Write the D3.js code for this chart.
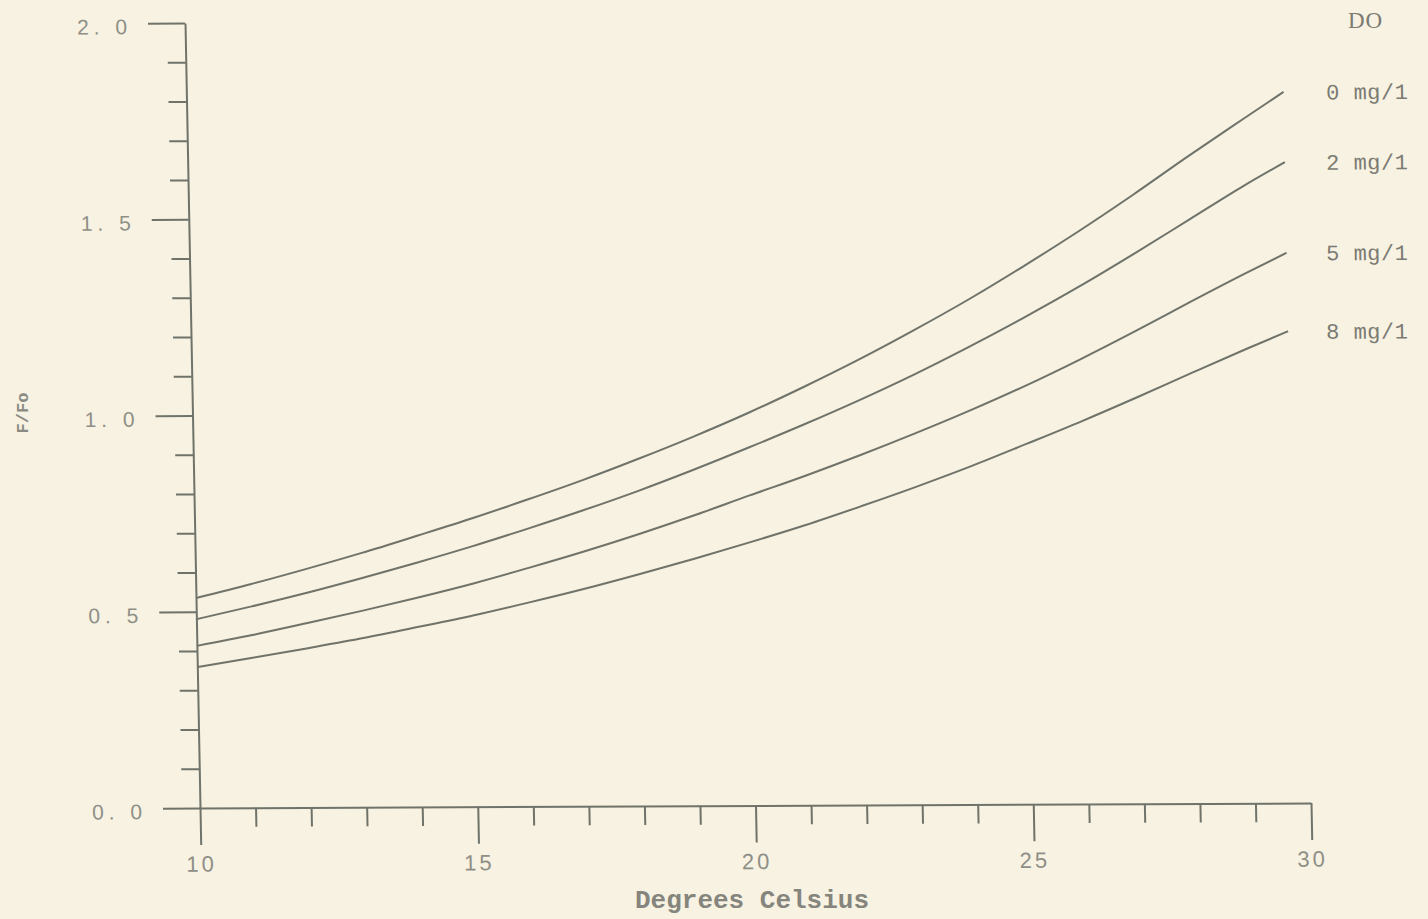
<!DOCTYPE html>
<html>
<head>
<meta charset="utf-8">
<script src="https://cdn.jsdelivr.net/npm/d3@7"></script>
<style>
  html, body { margin: 0; padding: 0; background: #f7f2e2; }
  svg { display: block; }
</style>
</head>
<body>
<svg id="chart"></svg>
<script>
// Temperatures (degrees C) at which the curves were read
const temperatures = [10, 11, 12, 13, 14, 15, 16, 17, 18, 19, 20, 21, 22, 23, 24, 25, 26, 27, 28, 29, 29.75];

// F/Fo, one array per dissolved oxygen level
const ratioDO0 = [0.535, 0.570, 0.608, 0.648, 0.691, 0.735, 0.782, 0.831, 0.884, 0.940, 1.000, 1.065, 1.134, 1.208, 1.286, 1.370, 1.458, 1.551, 1.648, 1.742, 1.812];
const ratioDO2 = [0.481, 0.513, 0.547, 0.584, 0.623, 0.664, 0.708, 0.754, 0.803, 0.856, 0.912, 0.970, 1.031, 1.096, 1.166, 1.240, 1.318, 1.401, 1.487, 1.573, 1.633];
const ratioDO5 = [0.413, 0.440, 0.470, 0.501, 0.534, 0.569, 0.608, 0.649, 0.693, 0.740, 0.790, 0.839, 0.891, 0.946, 1.004, 1.066, 1.133, 1.204, 1.278, 1.350, 1.402];
const ratioDO8 = [0.359, 0.382, 0.406, 0.431, 0.459, 0.488, 0.520, 0.554, 0.591, 0.630, 0.671, 0.714, 0.761, 0.810, 0.862, 0.918, 0.975, 1.035, 1.097, 1.158, 1.202];

const seriesLabels = ["0 mg/1", "2 mg/1", "5 mg/1", "8 mg/1"];

// Axis ticks
const xTicks = [10, 15, 20, 25, 30];
const xMinorTicks = [11, 12, 13, 14, 16, 17, 18, 19, 21, 22, 23, 24, 26, 27, 28, 29];
const yTicks = [0.0, 0.5, 1.0, 1.5, 2.0];
const yMinorTicks = [0.1, 0.2, 0.3, 0.4, 0.6, 0.7, 0.8, 0.9, 1.1, 1.2, 1.3, 1.4, 1.6, 1.7, 1.8, 1.9];

function CreateRatioChart(selector) {

    d3.select(selector).selectAll("*").remove();

    const width = 1428;
    const height = 919;
    const plotWidth = 1111;
    const plotHeight = 785;
    const lean = 0.0191;   // y axis leans left toward the top
    const climb = -0.0045; // x axis climbs toward the right

    const inkColor = "#6f736a";
    const labelColor = "#8f8f87";

    const svg = d3.select(selector)
        .attr("width", width)
        .attr("height", height)
        .attr("viewBox", [0, 0, width, height]);

    svg.append("rect")
        .attr("width", width)
        .attr("height", height)
        .attr("fill", "#f7f2e2");

    // The original plot is a bit skewed, so the drawing group is too
    const g = svg.append("g")
        .attr("transform", `matrix(1,${climb},${lean},1,200,808)`);

    const x = d3.scaleLinear()
        .domain([10, 30])
        .range([0, plotWidth]);

    const y = d3.scaleLinear()
        .domain([0, 2])
        .range([0, -plotHeight]);

    // minor ticks first
    g.append("g")
        .attr("class", "x-minor")
        .call(d3.axisBottom(x).tickValues(xMinorTicks).tickSize(19).tickFormat(""))
        .call(a => a.select(".domain").remove());

    g.append("g")
        .attr("class", "y-minor")
        .call(d3.axisLeft(y).tickValues(yMinorTicks).tickSize(18).tickFormat(""))
        .call(a => a.select(".domain").remove());

    // major ticks + axis lines (the 0.0 and 10 ticks make the axis overhangs)
    const xAxis = g.append("g")
        .attr("class", "x-axis")
        .call(d3.axisBottom(x).tickValues(xTicks).tickSize(37).tickSizeOuter(0).tickPadding(11).tickFormat(d3.format("d")));

    const yAxis = g.append("g")
        .attr("class", "y-axis")
        .call(d3.axisLeft(y).tickValues(yTicks).tickSize(37).tickSizeOuter(0).tickPadding(16)
            .tickFormat(d => d.toFixed(1).replace(".", ". ")));

    g.selectAll(".domain, .tick line")
        .attr("stroke", inkColor)
        .attr("stroke-width", 2);

    xAxis.selectAll("text")
        .attr("fill", labelColor)
        .style("font-family", "'Liberation Sans', sans-serif")
        .style("font-size", "22px")
        .style("letter-spacing", "3px");

    yAxis.selectAll("text")
        .attr("fill", labelColor)
        .attr("dy", "0.5em")
        .style("font-family", "'Liberation Sans', sans-serif")
        .style("font-size", "21px")
        .style("letter-spacing", "5px")
        .style("white-space", "pre");

    // curves
    const series = [ratioDO0, ratioDO2, ratioDO5, ratioDO8].map((vals, i) => ({
        label: seriesLabels[i],
        values: temperatures.map((t, j) => ({ t: t, v: vals[j] }))
    }));

    const line = d3.line()
        .x(d => x(d.t))
        .y(d => y(d.v))
        .curve(d3.curveMonotoneX);

    g.selectAll(".curve")
        .data(series)
        .join("path")
        .attr("class", "curve")
        .attr("fill", "none")
        .attr("stroke", inkColor)
        .attr("stroke-width", 2)
        .attr("d", d => line(d.values));

    // labels at the right end of each curve, lined up in one column
    const lastPoint = d => d.values[d.values.length - 1];
    g.selectAll(".curve-label")
        .data(series)
        .join("text")
        .attr("class", "curve-label")
        .attr("x", d => x(lastPoint(d).t) + 29 - lean * y(lastPoint(d).v))
        .attr("y", d => y(lastPoint(d).v))
        .attr("dy", "0.35em")
        .attr("fill", "#7b7b73")
        .style("font-family", "'Liberation Mono', monospace")
        .style("font-size", "22px")
        .style("letter-spacing", "0.5px")
        .text(d => d.label);

    svg.append("text")
        .attr("x", 1348)
        .attr("y", 28)
        .attr("fill", "#7b7b73")
        .style("font-family", "'Liberation Serif', serif")
        .style("font-size", "23px")
        .style("letter-spacing", "1px")
        .text("DO");

    // axis titles
    svg.append("text")
        .attr("x", 752)
        .attr("y", 908)
        .attr("text-anchor", "middle")
        .attr("fill", "#85857d")
        .style("font-family", "'Liberation Mono', monospace")
        .style("font-weight", "bold")
        .style("font-size", "26px")
        .text("Degrees Celsius");

    svg.append("text")
        .attr("transform", "translate(28,413) rotate(-90)")
        .attr("text-anchor", "middle")
        .attr("fill", "#8a8a82")
        .style("font-family", "'Liberation Mono', monospace")
        .style("font-weight", "bold")
        .style("font-size", "17px")
        .text("F/Fo");
}

CreateRatioChart("#chart");
</script>
</body>
</html>
